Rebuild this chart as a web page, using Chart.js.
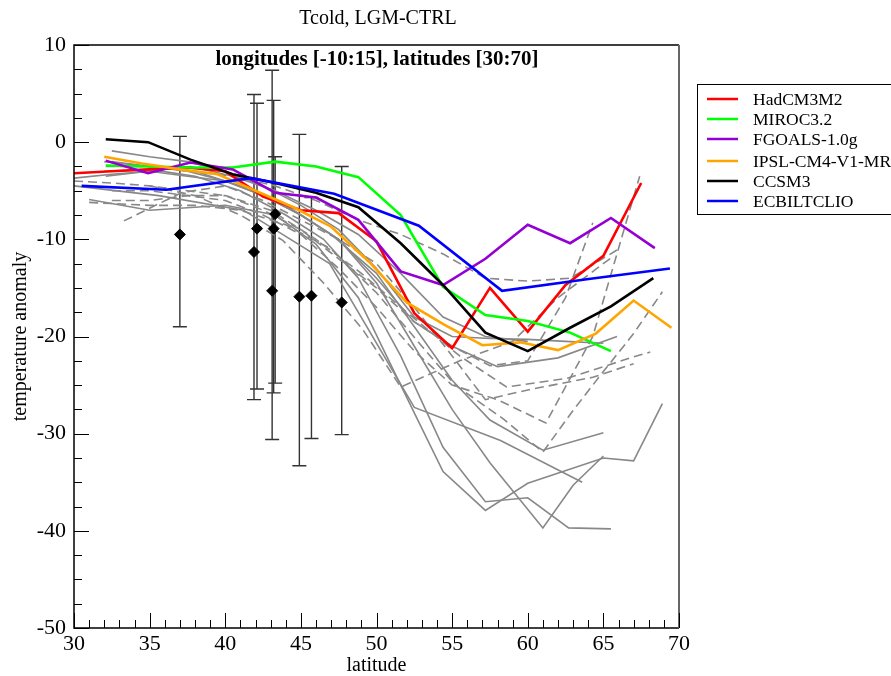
<!DOCTYPE html>
<html>
<head>
<meta charset="utf-8">
<script src="https://cdn.jsdelivr.net/npm/chart.js@4.4.1/dist/chart.umd.min.js"></script>
<style>
  html, body { margin: 0; padding: 0; background: #fff; }
  #wrap { width: 891px; height: 676px; }
</style>
</head>
<body>
<div id="wrap"><canvas id="c" width="891" height="676"></canvas></div>
<script>
// --- data ---
const xTicks = [30, 35, 40, 45, 50, 55, 60, 65, 70];
const yTicks = [-50, -40, -30, -20, -10, 0, 10];

const hadLat = [30, 32.5, 35, 37.5, 40, 42.5, 45, 47.5, 50, 52.5, 55, 57.5, 60, 62.5, 65, 67.5];
const hadT   = [-3.2, -3.0, -2.8, -2.6, -3.0, -5.6, -7.0, -7.3, -10.2, -17.6, -21.2, -15.0, -19.5, -14.7, -11.7, -4.2];

const miroLat = [32.1, 34.9, 37.7, 40.5, 43.3, 46.0, 48.8, 51.6, 54.4, 57.2, 60.0, 62.8, 65.5];
const miroT   = [-2.4, -2.5, -2.6, -2.6, -2.0, -2.5, -3.6, -7.5, -14.9, -17.8, -18.4, -19.6, -21.5];

const fgLat = [32.1, 34.9, 37.7, 40.5, 43.3, 46.0, 48.8, 51.6, 54.4, 57.2, 60.0, 62.8, 65.5, 68.4];
const fgT   = [-1.9, -3.2, -2.1, -2.8, -5.2, -5.7, -8.0, -13.3, -14.7, -12.0, -8.5, -10.4, -7.8, -10.9];

const ipLat = [32, 34.5, 37, 39.5, 42, 44.5, 47, 49.5, 52, 54.5, 57, 59.5, 62, 64.5, 67, 69.5];
const ipT   = [-1.5, -2.2, -2.8, -3.3, -5.0, -6.7, -8.7, -12.3, -16.5, -18.8, -20.9, -20.6, -21.4, -19.7, -16.3, -19.1];

const ccLat = [32.1, 34.9, 37.7, 40.5, 43.3, 46.0, 48.8, 51.6, 54.4, 57.2, 60.0, 62.8, 65.5, 68.3];
const ccT   = [0.3, 0.0, -1.8, -3.3, -4.2, -5.2, -6.7, -10.4, -14.7, -19.6, -21.5, -19.1, -16.9, -14.0];

const ecLat = [30.5, 36.1, 41.7, 47.2, 52.8, 58.3, 63.9, 69.4];
const ecT   = [-4.5, -4.9, -3.7, -5.3, -8.6, -15.3, -14.1, -13.0];

// other models (grey, solid)
const gs1 = [[32.5,-0.9],[35,-1.5],[37.5,-2.0],[40,-3.0],[42.5,-4.5],[45,-6.5],[47.5,-9.0],[50,-13.0],[52.5,-18.0],[55,-20.0],[57.5,-20.2],[60,-20.3],[62.5,-20.5],[65,-20.7]];
const gs2 = [[30,-3.7],[32.5,-3.3],[35,-3.0],[37.5,-3.5],[40,-4.0],[42.5,-5.5],[45,-7.5],[47.5,-10.0],[50,-14.0],[52.5,-18.5],[55,-21.0],[58,-23.1],[62,-22.2],[65.9,-20.0]];
const gs3 = [[30,-4.5],[35.6,-5.5],[41.2,-7.0],[46.9,-12.5],[52.5,-27.3],[58.2,-30.7],[63.6,-35.0]];
const gs4 = [[31,-5.9],[35,-7.0],[40,-6.5],[43.3,-7.5],[46,-10.5],[48.8,-16],[51.6,-25],[54.4,-33.9],[57.2,-37.9],[60,-35.1],[65,-32.5],[67,-32.8],[68.9,-26.9]];
const gs5 = [[32,-3.0],[35,-2.8],[38,-3.5],[41,-5.0],[44,-7.5],[46.5,-10],[48.8,-14],[51.6,-22],[54.4,-31.4],[57.2,-37.0],[60,-36.6],[62.7,-39.7],[65.5,-39.8]];
const gs6 = [[32.5,-2.0],[35,-2.5],[37.5,-3.0],[40,-4.0],[42.5,-5.5],[45,-7.5],[47.5,-10],[50,-14.5],[52.5,-21],[55,-27.5],[57.5,-33],[61,-39.7],[63,-35.3],[65,-32.3]];
const gs7 = [[32,-2.0],[35,-2.5],[38,-3.0],[41,-4.5],[44,-6.5],[47,-9.5],[50,-13.5],[52.5,-19],[55,-24.5],[57.5,-28.6],[61,-31.7],[65,-29.9]];
const gs8 = [[32.1,-3.5],[34.9,-3.0],[37.7,-2.5],[40.5,-3.5],[43.3,-5.0],[46,-7.0],[48.8,-9.5],[51.6,-13.5],[54.4,-18],[57.2,-20],[60,-20.5]];

// other models (grey, dashed)
const gd1 = [[35,-4.5],[38,-5.5],[41,-7.5],[43.8,-10.1],[46.5,-14.5],[49.1,-19.3],[51.6,-25.2],[55.5,-22.5],[59,-20.5],[62,-16],[65.6,-11.8]];
const gd2 = [[32.5,-6.0],[35,-6.0],[37.5,-5.5],[40,-5.5],[43,-7],[46,-10],[49,-13.5],[52,-17.5],[55.5,-22],[58.6,-25.2],[62.6,-24.3],[67,-22.1],[68.1,-21.6]];
const gd3 = [[33.3,-8.1],[37.1,-5.2],[40,-4.5],[42.5,-6],[45,-8],[47.5,-10],[50,-12.5],[52.5,-17],[55,-22],[57.2,-26.5],[60,-25.5],[64.3,-24.2],[67,-22.8]];
const gd4 = [[31,-6.2],[35,-6.5],[38,-6.5],[41,-7],[44,-8.5],[47,-11],[50,-15.5],[53,-21],[55.2,-25],[58.4,-28.5],[61,-31.9],[63,-27.6],[64.8,-24.0],[67,-19.7],[68.9,-15.4]];
const gd5 = [[32.5,-5.0],[35,-5.0],[37.5,-5.5],[40,-6.0],[42.5,-7.5],[45,-9.5],[47.5,-13],[50,-17],[52.5,-21.5],[55,-25],[58,-26.5],[61.2,-28.9],[64.3,-20],[67.4,-3.5]];
const gd6 = [[32.1,-2.5],[34.9,-2.5],[37.7,-3.0],[40.5,-3.5],[43.3,-4.5],[46,-6],[48.8,-8.0],[51.6,-9.5],[54.4,-11.5],[57.2,-14.0],[60,-14.3],[62.8,-14.0],[65.9,-11.1]];
const gd7 = [[30,-4.0],[32.5,-4.2],[35,-4.5],[37.5,-5.0],[40,-5.5],[42.5,-7.0],[45,-9],[47.5,-12],[50,-15],[52.5,-18.5],[55,-21],[57.5,-23],[60,-22.5],[62.5,-16],[64.3,-8.3]];

// pollen reconstructions with error bars
const obsLat = [37.0, 41.9, 42.1, 43.1, 43.2, 43.3, 44.9, 45.7, 47.7];
const obsT   = [-9.5, -11.3, -8.9, -15.3, -8.9, -7.4, -15.9, -15.8, -16.5];
const obsHi  = [0.6, 4.9, 4.0, 7.4, 4.3, -1.5, 0.8, -5.7, -2.5];
const obsLo  = [-19.0, -26.5, -25.4, -30.6, -25.8, -24.8, -33.3, -30.5, -30.1];

const FONT = "'Liberation Serif', 'Times New Roman', serif";

// --- helpers ---
const pts = (lat, t) => lat.map((x, i) => ({ x, y: t[i] }));
const pairs = arr => arr.map(([x, y]) => ({ x, y }));

const greyLine = (arr, dashed) => ({
  data: pairs(arr),
  showLine: true,
  borderColor: '#888888',
  borderWidth: 1.6,
  borderDash: dashed ? [9, 5] : [],
  pointRadius: 0,
  fill: false,
  order: 20
});

const modelLine = (label, lat, t, color, order) => ({
  label,
  data: pts(lat, t),
  showLine: true,
  borderColor: color,
  backgroundColor: color,
  borderWidth: 2.6,
  pointRadius: 0,
  fill: false,
  order
});

const models = [
  modelLine('HadCM3M2', hadLat, hadT, '#ff0000', 6),
  modelLine('MIROC3.2', miroLat, miroT, '#00ff00', 5),
  modelLine('FGOALS-1.0g', fgLat, fgT, '#9400d3', 4),
  modelLine('IPSL-CM4-V1-MR', ipLat, ipT, '#ffa500', 3),
  modelLine('CCSM3', ccLat, ccT, '#000000', 2),
  modelLine('ECBILTCLIO', ecLat, ecT, '#0000ff', 1)
];

const greys = [gs1, gs2, gs3, gs4, gs5, gs6, gs7, gs8].map(g => greyLine(g, false))
  .concat([gd1, gd2, gd3, gd4, gd5, gd6, gd7].map(g => greyLine(g, true)));

const obsSet = {
  label: 'obs',
  data: pts(obsLat, obsT),
  showLine: false,
  pointStyle: 'rectRot',
  pointRadius: 5.5,
  pointBackgroundColor: '#000',
  pointBorderColor: '#000',
  order: 0
};

// error bars, frame, inward ticks, titles and legend
const decor = {
  id: 'decor',
  beforeDatasetsDraw(chart) {
    const { ctx, scales: { x, y } } = chart;
    ctx.save();
    ctx.strokeStyle = '#333';
    ctx.lineWidth = 1.4;
    obsLat.forEach((lat, i) => {
      const px = x.getPixelForValue(lat);
      const top = y.getPixelForValue(obsHi[i]);
      const bot = y.getPixelForValue(obsLo[i]);
      ctx.beginPath();
      ctx.moveTo(px, top); ctx.lineTo(px, bot);
      ctx.moveTo(px - 7, top); ctx.lineTo(px + 7, top);
      ctx.moveTo(px - 7, bot); ctx.lineTo(px + 7, bot);
      ctx.stroke();
    });
    ctx.restore();
  },
  afterDatasetsDraw(chart) {
    const { ctx, chartArea: a, scales: { x, y } } = chart;
    ctx.save();
    // frame
    ctx.strokeStyle = '#000';
    ctx.lineWidth = 1.5;
    ctx.beginPath();
    ctx.moveTo(a.right, a.top); ctx.lineTo(a.left, a.top);
    ctx.lineTo(a.left, a.bottom); ctx.lineTo(a.right, a.bottom);
    ctx.stroke();
    ctx.strokeStyle = '#666';
    ctx.lineWidth = 2;
    ctx.beginPath();
    ctx.moveTo(a.right, a.top); ctx.lineTo(a.right, a.bottom);
    ctx.stroke();

    // inward ticks
    ctx.strokeStyle = '#000';
    ctx.lineWidth = 1;
    ctx.beginPath();
    for (let v = 30; v <= 70; v += 1) {
      const px = Math.round(x.getPixelForValue(v)) + 0.5;
      const len = v % 5 === 0 ? 15 : 8;
      ctx.moveTo(px, a.bottom); ctx.lineTo(px, a.bottom - len);
    }
    for (let v = -50; v <= 10; v += 2.5) {
      const py = Math.round(y.getPixelForValue(v)) + 0.5;
      const len = v % 10 === 0 ? 15 : 8;
      ctx.moveTo(a.left, py); ctx.lineTo(a.left + len, py);
    }
    ctx.stroke();

    // titles
    ctx.fillStyle = '#000';
    ctx.textAlign = 'center';
    ctx.textBaseline = 'middle';
    ctx.font = `20px ${FONT}`;
    ctx.fillText('Tcold, LGM-CTRL', 378, 19);
    ctx.font = `bold 21px ${FONT}`;
    ctx.fillText('longitudes [-10:15], latitudes [30:70]', 377, 60);

    // legend box
    ctx.lineWidth = 1;
    ctx.strokeStyle = '#000';
    ctx.strokeRect(697.5, 84.5, 200, 130);
    const rows = [99, 119, 139, 161, 181, 201];
    ctx.textAlign = 'left';
    ctx.font = `17.5px ${FONT}`;
    models.forEach((m, i) => {
      ctx.strokeStyle = m.borderColor;
      ctx.lineWidth = 2.5;
      ctx.beginPath();
      ctx.moveTo(707, rows[i]); ctx.lineTo(738, rows[i]);
      ctx.stroke();
      ctx.fillStyle = '#000';
      ctx.fillText(m.label, 753, rows[i] + 1);
    });
    ctx.restore();
  }
};

new Chart(document.getElementById('c'), {
  type: 'scatter',
  data: { datasets: [obsSet, ...models, ...greys] },
  options: {
    responsive: false,
    animation: false,
    devicePixelRatio: 1,
    layout: { padding: { left: 0, right: 212, top: 45, bottom: 0 } },
    plugins: { legend: { display: false }, tooltip: { enabled: false } },
    scales: {
      x: {
        type: 'linear', min: 30, max: 70,
        afterBuildTicks: s => { s.ticks = xTicks.map(v => ({ value: v })); },
        afterFit: s => { s.height = 48; },
        grid: { display: false, drawTicks: false },
        border: { display: false },
        ticks: { color: '#000', padding: 3, font: { family: FONT, size: 22 } },
        title: { display: true, text: 'latitude', color: '#000', padding: { top: 0, bottom: 0 }, font: { family: FONT, size: 20, lineHeight: 1.0 } }
      },
      y: {
        type: 'linear', min: -50, max: 10,
        afterBuildTicks: s => { s.ticks = yTicks.map(v => ({ value: v })); },
        afterFit: s => { s.width = 74; },
        grid: { display: false, drawTicks: false },
        border: { display: false },
        ticks: { color: '#000', padding: 8, font: { family: FONT, size: 22 } },
        title: { display: true, text: 'temperature anomaly', color: '#000', padding: { top: 9, bottom: 0 }, font: { family: FONT, size: 20 } }
      }
    }
  },
  plugins: [decor]
});
</script>
</body>
</html>
